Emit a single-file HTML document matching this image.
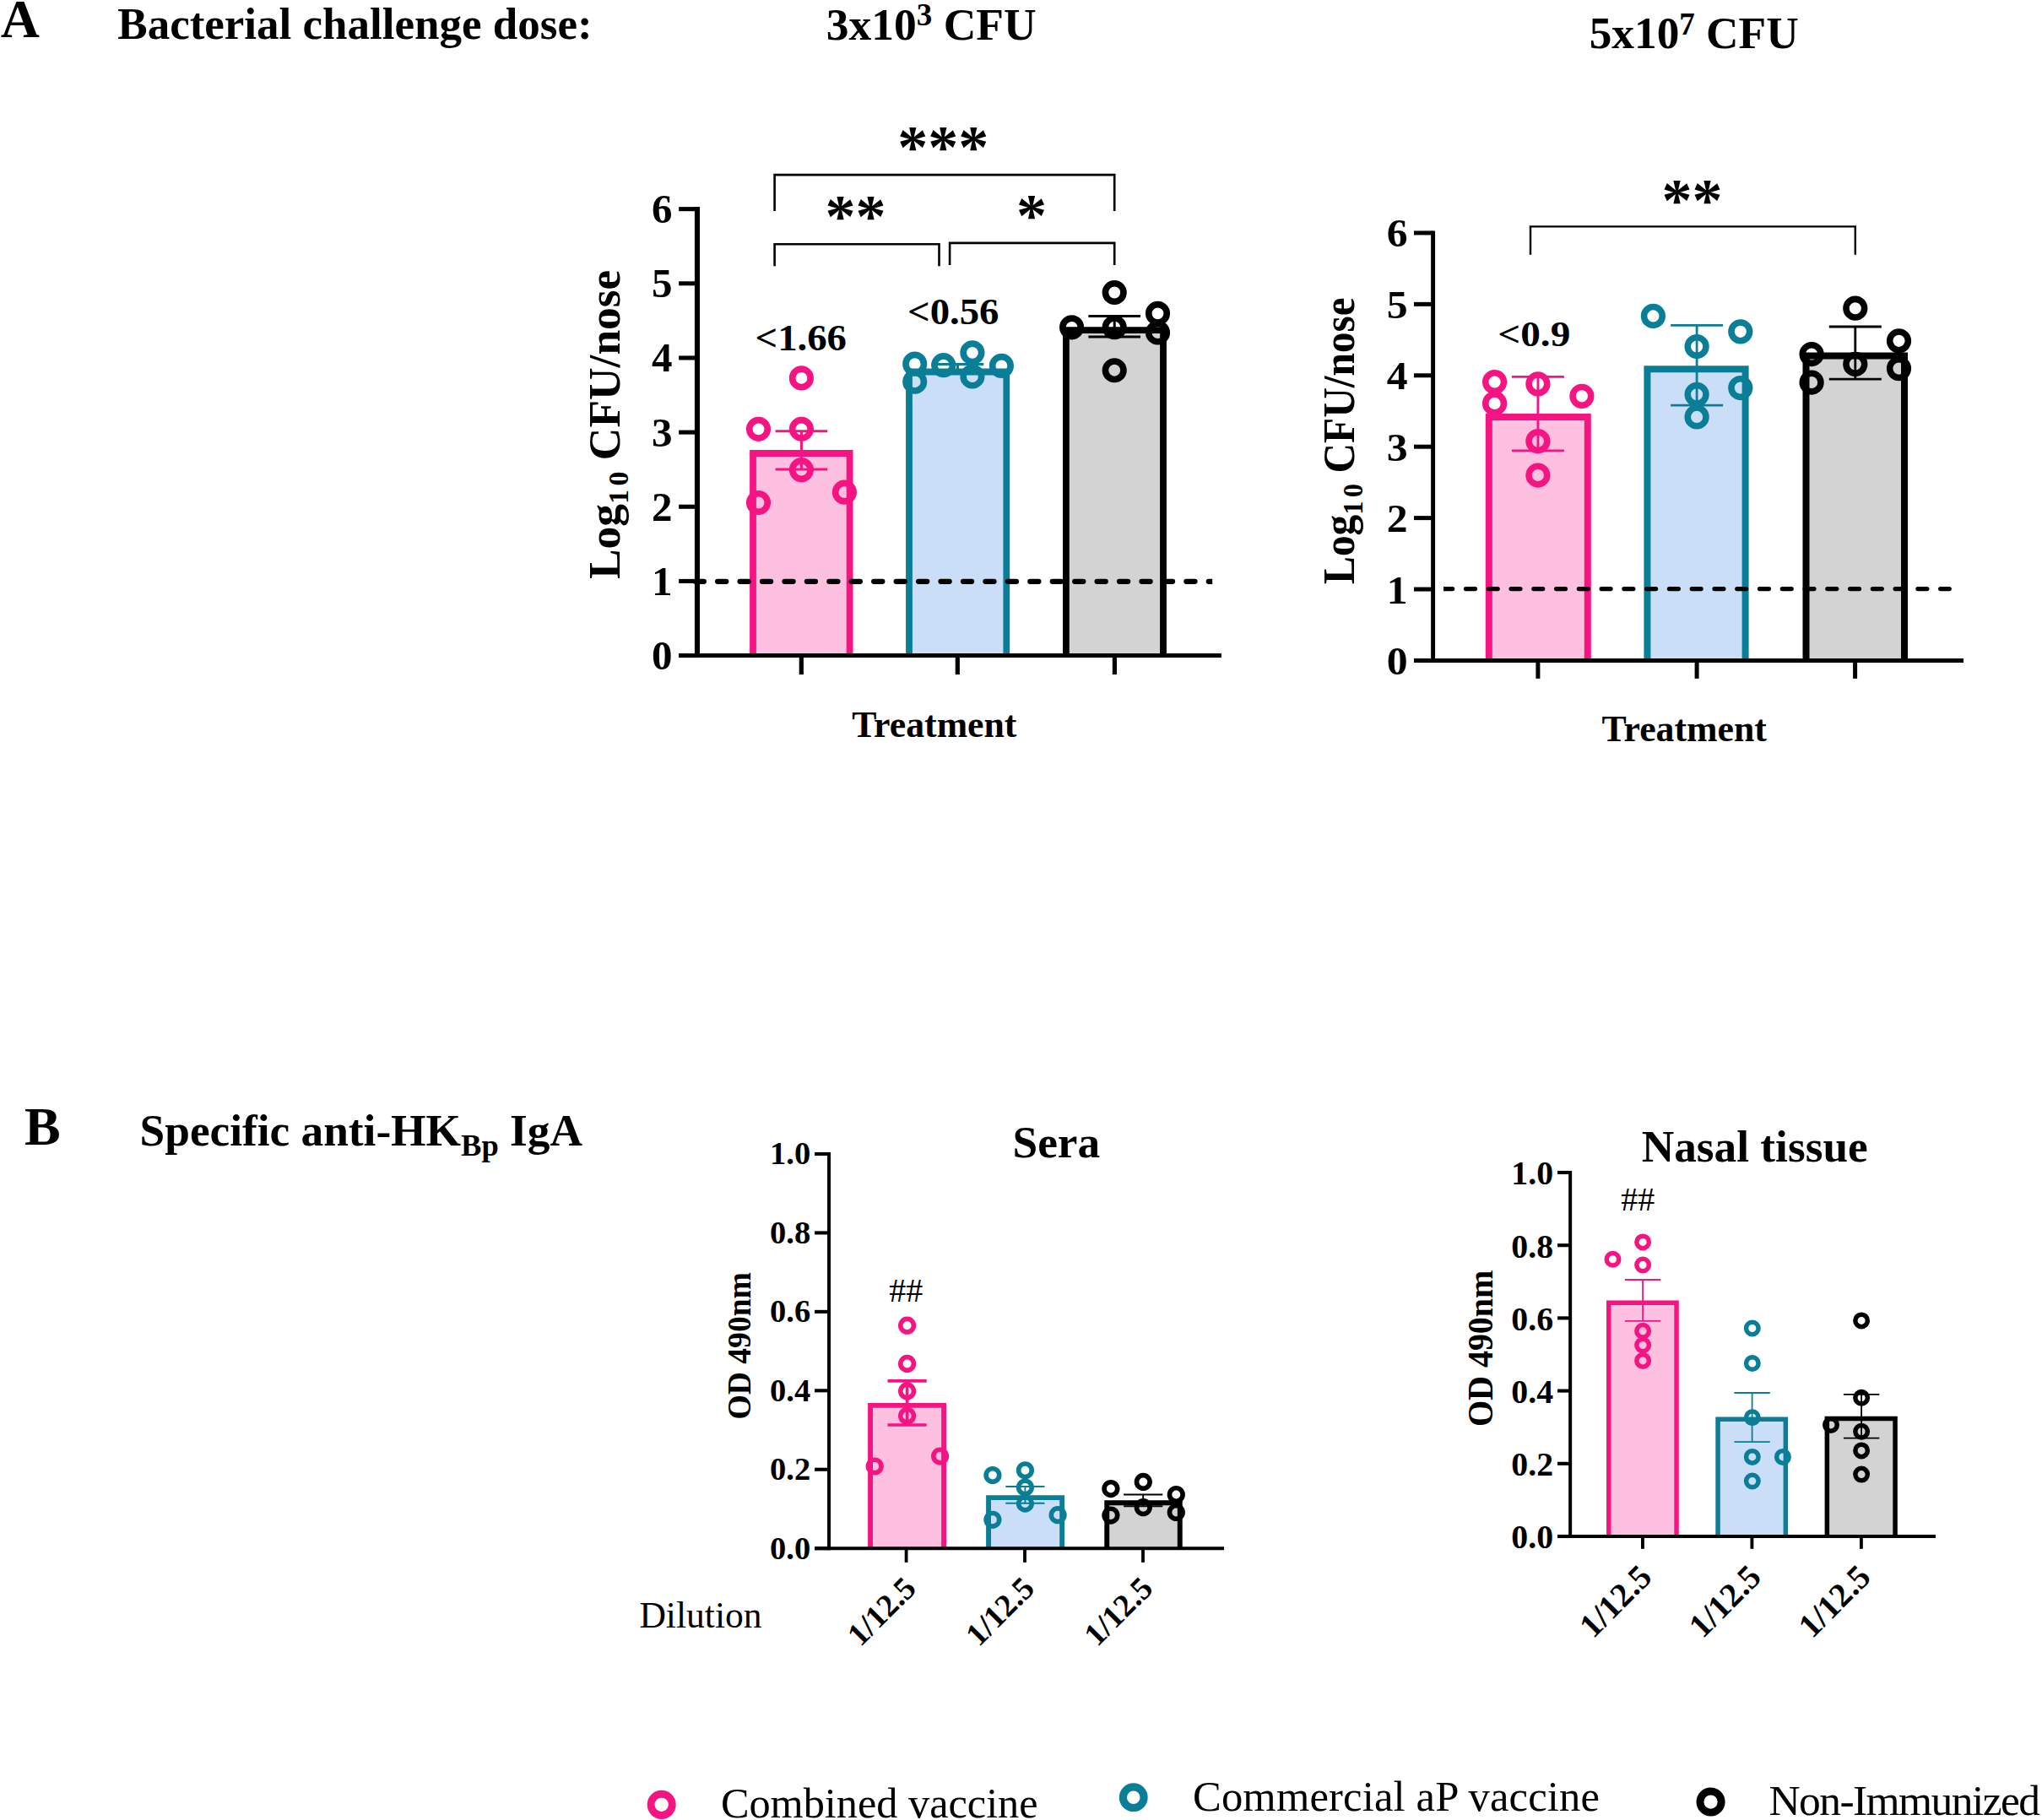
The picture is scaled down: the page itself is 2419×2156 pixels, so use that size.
<!DOCTYPE html>
<html><head><meta charset="utf-8"><title>Figure</title>
<style>
html,body{margin:0;padding:0;background:#fff;}
svg{display:block;}
text{font-family:"Liberation Serif",serif;fill:#000;}
</style></head><body>
<svg width="2419" height="2156" viewBox="0 0 2419 2156">
<rect width="2419" height="2156" fill="#fff"/>
<text x="0.8" y="44.0" font-size="64" font-weight="bold" text-anchor="start">A</text>
<text x="139.3" y="46.2" font-size="53" font-weight="bold" text-anchor="start">Bacterial challenge dose:</text>
<text x="978.8" y="46.5" font-size="53.5" font-weight="bold">3x10<tspan font-size="37" dy="-16.2">3</tspan><tspan dy="16.2"> CFU</tspan></text>
<text x="1882.7" y="57.1" font-size="53.3" font-weight="bold">5x10<tspan font-size="37" dy="-16.2">7</tspan><tspan dy="16.2"> CFU</tspan></text>
<text x="28.9" y="1355.7" font-size="64" font-weight="bold" text-anchor="start">B</text>
<text x="165.6" y="1357" font-size="53.3" font-weight="bold">Specific anti-HK<tspan font-size="36.5" dy="11.5">Bp</tspan><tspan dy="-11.5"> IgA</tspan></text>
<rect x="892.00" y="537.00" width="114.60" height="239.55" fill="#FEC0E0"/>
<path d="M892.00 776.55V537.00H1006.60V776.55" fill="none" stroke="#F61482" stroke-width="7.8"/>
<rect x="1077.00" y="440.50" width="115.30" height="336.05" fill="#CADEF7"/>
<path d="M1077.00 776.55V440.50H1192.30V776.55" fill="none" stroke="#0A7E97" stroke-width="7.8"/>
<rect x="1262.90" y="391.20" width="115.10" height="385.35" fill="#D3D3D3"/>
<path d="M1262.90 776.55V391.20H1378.00V776.55" fill="none" stroke="#000000" stroke-width="7.8"/>
<path d="M918.60 510.70H980.20M918.60 555.90H980.20M949.40 510.70V555.90" stroke="#F61482" stroke-width="3.0" fill="none"/>
<path d="M1103.70 431.50H1165.30M1103.70 440.00H1165.30M1134.50 431.50V440.00" stroke="#0A7E97" stroke-width="3.0" fill="none"/>
<path d="M1289.40 374.40H1351.00M1289.40 399.10H1351.00M1320.20 374.40V399.10" stroke="#000000" stroke-width="3.0" fill="none"/>
<path d="M825.95 245.12V779.07" stroke="#000" stroke-width="6.1" fill="none"/>
<path d="M804.1 776.55H1446.9" stroke="#000" stroke-width="5.05" fill="none"/>
<path d="M804.1500000000001 776.55H825.95" stroke="#000" stroke-width="5.05" fill="none"/>
<text x="796.5" y="793.05" font-size="49" font-weight="bold" text-anchor="end">0</text>
<path d="M804.1500000000001 688.40H825.95" stroke="#000" stroke-width="5.05" fill="none"/>
<text x="796.5" y="704.90" font-size="49" font-weight="bold" text-anchor="end">1</text>
<path d="M804.1500000000001 600.25H825.95" stroke="#000" stroke-width="5.05" fill="none"/>
<text x="796.5" y="616.75" font-size="49" font-weight="bold" text-anchor="end">2</text>
<path d="M804.1500000000001 512.10H825.95" stroke="#000" stroke-width="5.05" fill="none"/>
<text x="796.5" y="528.60" font-size="49" font-weight="bold" text-anchor="end">3</text>
<path d="M804.1500000000001 423.95H825.95" stroke="#000" stroke-width="5.05" fill="none"/>
<text x="796.5" y="440.45" font-size="49" font-weight="bold" text-anchor="end">4</text>
<path d="M804.1500000000001 335.80H825.95" stroke="#000" stroke-width="5.05" fill="none"/>
<text x="796.5" y="352.30" font-size="49" font-weight="bold" text-anchor="end">5</text>
<path d="M804.1500000000001 247.65H825.95" stroke="#000" stroke-width="5.05" fill="none"/>
<text x="796.5" y="264.15" font-size="49" font-weight="bold" text-anchor="end">6</text>
<path d="M949.30 776.55V799.05" stroke="#000" stroke-width="5.2" fill="none"/>
<path d="M1134.30 776.55V799.05" stroke="#000" stroke-width="5.2" fill="none"/>
<path d="M1320.40 776.55V799.05" stroke="#000" stroke-width="5.2" fill="none"/>
<circle cx="949.40" cy="447.90" r="10.75" stroke="#F61482" stroke-width="7.65" fill="none"/>
<circle cx="898.50" cy="508.30" r="10.75" stroke="#F61482" stroke-width="7.65" fill="none"/>
<circle cx="949.40" cy="508.30" r="10.75" stroke="#F61482" stroke-width="7.65" fill="none"/>
<circle cx="949.40" cy="556.60" r="10.75" stroke="#F61482" stroke-width="7.65" fill="none"/>
<circle cx="1000.40" cy="583.10" r="10.75" stroke="#F61482" stroke-width="7.65" fill="none"/>
<circle cx="898.50" cy="595.50" r="10.75" stroke="#F61482" stroke-width="7.65" fill="none"/>
<circle cx="1083.70" cy="431.10" r="10.75" stroke="#0A7E97" stroke-width="7.65" fill="none"/>
<circle cx="1117.70" cy="432.60" r="10.75" stroke="#0A7E97" stroke-width="7.65" fill="none"/>
<circle cx="1151.90" cy="417.80" r="10.75" stroke="#0A7E97" stroke-width="7.65" fill="none"/>
<circle cx="1186.40" cy="433.40" r="10.75" stroke="#0A7E97" stroke-width="7.65" fill="none"/>
<circle cx="1151.90" cy="446.00" r="10.75" stroke="#0A7E97" stroke-width="7.65" fill="none"/>
<circle cx="1083.70" cy="452.20" r="10.75" stroke="#0A7E97" stroke-width="7.65" fill="none"/>
<circle cx="1320.20" cy="346.50" r="10.75" stroke="#000000" stroke-width="7.65" fill="none"/>
<circle cx="1371.50" cy="371.30" r="10.75" stroke="#000000" stroke-width="7.65" fill="none"/>
<circle cx="1269.60" cy="387.80" r="10.75" stroke="#000000" stroke-width="7.65" fill="none"/>
<circle cx="1320.20" cy="387.70" r="10.75" stroke="#000000" stroke-width="7.65" fill="none"/>
<circle cx="1371.50" cy="394.00" r="10.75" stroke="#000000" stroke-width="7.65" fill="none"/>
<circle cx="1320.20" cy="438.70" r="10.75" stroke="#000000" stroke-width="7.65" fill="none"/>
<clipPath id="c1"><rect x="820" y="680" width="616.2" height="20"/></clipPath>
<path d="M823.7 688.8H1445" stroke="#000" stroke-width="6.3" stroke-linecap="round" stroke-dasharray="10.1 16.34" fill="none" clip-path="url(#c1)"/>
<text x="894.5" y="414.6" font-size="44" font-weight="bold" text-anchor="start" textLength="108.5" lengthAdjust="spacingAndGlyphs">&lt;1.66</text>
<text x="1075" y="384.1" font-size="44" font-weight="bold" text-anchor="start" textLength="108.5" lengthAdjust="spacingAndGlyphs">&lt;0.56</text>
<text transform="translate(1106.8 873.2) scale(0.973 1.0)" font-size="45" font-weight="bold" text-anchor="middle">Treatment</text>
<text transform="translate(733.5 686) rotate(-90)" font-size="53.4" font-weight="bold">Log<tspan font-size="34" dy="10.6">1<tspan dx="4.5">0</tspan></tspan><tspan dy="-10.6"> CFU/nose</tspan></text>
<path d="M917.6 249.9V207.1H1320.2V249.9" stroke="#000" stroke-width="2.6" fill="none"/>
<path d="M917.6 315.2V289.3H1112.5V315.2" stroke="#000" stroke-width="2.6" fill="none"/>
<path d="M1125.1 314.1V287.9H1320.2V314.1" stroke="#000" stroke-width="2.6" fill="none"/>
<text x="1117.3" y="197.5" font-size="72" font-weight="bold" text-anchor="middle">***</text>
<text x="1013.6" y="280" font-size="72" font-weight="bold" text-anchor="middle">**</text>
<text x="1222" y="279.4" font-size="72" font-weight="bold" text-anchor="middle">*</text>
<rect x="1763.80" y="494.00" width="117.00" height="288.45" fill="#FEC0E0"/>
<path d="M1763.80 782.45V494.00H1880.80V782.45" fill="none" stroke="#F61482" stroke-width="8.0"/>
<rect x="1951.40" y="437.20" width="116.20" height="345.25" fill="#CADEF7"/>
<path d="M1951.40 782.45V437.20H2067.60V782.45" fill="none" stroke="#0A7E97" stroke-width="8.0"/>
<rect x="2139.50" y="421.50" width="116.50" height="360.95" fill="#D3D3D3"/>
<path d="M2139.50 782.45V421.50H2256.00V782.45" fill="none" stroke="#000000" stroke-width="8.0"/>
<path d="M1790.90 446.30H1852.90M1790.90 533.90H1852.90M1821.90 446.30V533.90" stroke="#F61482" stroke-width="2.8" fill="none"/>
<path d="M1979.10 385.40H2041.10M1979.10 480.20H2041.10M2010.10 385.40V480.20" stroke="#0A7E97" stroke-width="2.8" fill="none"/>
<path d="M2166.80 387.00H2228.80M2166.80 449.20H2228.80M2197.80 387.00V449.20" stroke="#000000" stroke-width="2.8" fill="none"/>
<path d="M1697.6 273.43V784.95" stroke="#000" stroke-width="4.95" fill="none"/>
<path d="M1675.0 782.45H2326" stroke="#000" stroke-width="5.0" fill="none"/>
<path d="M1675.0 782.45H1697.6" stroke="#000" stroke-width="5.0" fill="none"/>
<text transform="translate(1667.6 798.95) scale(1.0146 0.958)" font-size="49" font-weight="bold" text-anchor="end">0</text>
<path d="M1675.0 698.03H1697.6" stroke="#000" stroke-width="5.0" fill="none"/>
<text transform="translate(1667.6 714.53) scale(1.0146 0.958)" font-size="49" font-weight="bold" text-anchor="end">1</text>
<path d="M1675.0 613.61H1697.6" stroke="#000" stroke-width="5.0" fill="none"/>
<text transform="translate(1667.6 630.11) scale(1.0146 0.958)" font-size="49" font-weight="bold" text-anchor="end">2</text>
<path d="M1675.0 529.19H1697.6" stroke="#000" stroke-width="5.0" fill="none"/>
<text transform="translate(1667.6 545.69) scale(1.0146 0.958)" font-size="49" font-weight="bold" text-anchor="end">3</text>
<path d="M1675.0 444.77H1697.6" stroke="#000" stroke-width="5.0" fill="none"/>
<text transform="translate(1667.6 461.27) scale(1.0146 0.958)" font-size="49" font-weight="bold" text-anchor="end">4</text>
<path d="M1675.0 360.35H1697.6" stroke="#000" stroke-width="5.0" fill="none"/>
<text transform="translate(1667.6 376.85) scale(1.0146 0.958)" font-size="49" font-weight="bold" text-anchor="end">5</text>
<path d="M1675.0 275.93H1697.6" stroke="#000" stroke-width="5.0" fill="none"/>
<text transform="translate(1667.6 292.43) scale(1.0146 0.958)" font-size="49" font-weight="bold" text-anchor="end">6</text>
<path d="M1821.90 782.45V803.85" stroke="#000" stroke-width="5" fill="none"/>
<path d="M2010.10 782.45V803.85" stroke="#000" stroke-width="5" fill="none"/>
<path d="M2197.60 782.45V803.85" stroke="#000" stroke-width="5" fill="none"/>
<circle cx="1770.60" cy="452.50" r="10.85" stroke="#F61482" stroke-width="7.55" fill="none"/>
<circle cx="1770.60" cy="477.90" r="10.85" stroke="#F61482" stroke-width="7.55" fill="none"/>
<circle cx="1821.90" cy="454.80" r="10.85" stroke="#F61482" stroke-width="7.55" fill="none"/>
<circle cx="1873.90" cy="469.30" r="10.85" stroke="#F61482" stroke-width="7.55" fill="none"/>
<circle cx="1821.90" cy="522.70" r="10.85" stroke="#F61482" stroke-width="7.55" fill="none"/>
<circle cx="1821.90" cy="563.00" r="10.85" stroke="#F61482" stroke-width="7.55" fill="none"/>
<circle cx="1958.40" cy="374.40" r="10.85" stroke="#0A7E97" stroke-width="7.55" fill="none"/>
<circle cx="2061.80" cy="392.80" r="10.85" stroke="#0A7E97" stroke-width="7.55" fill="none"/>
<circle cx="2010.10" cy="410.50" r="10.85" stroke="#0A7E97" stroke-width="7.55" fill="none"/>
<circle cx="2061.80" cy="459.50" r="10.85" stroke="#0A7E97" stroke-width="7.55" fill="none"/>
<circle cx="2010.10" cy="467.30" r="10.85" stroke="#0A7E97" stroke-width="7.55" fill="none"/>
<circle cx="2010.10" cy="493.90" r="10.85" stroke="#0A7E97" stroke-width="7.55" fill="none"/>
<circle cx="2197.80" cy="365.20" r="10.85" stroke="#000000" stroke-width="7.55" fill="none"/>
<circle cx="2249.50" cy="403.80" r="10.85" stroke="#000000" stroke-width="7.55" fill="none"/>
<circle cx="2146.10" cy="419.50" r="10.85" stroke="#000000" stroke-width="7.55" fill="none"/>
<circle cx="2197.80" cy="431.40" r="10.85" stroke="#000000" stroke-width="7.55" fill="none"/>
<circle cx="2249.50" cy="436.60" r="10.85" stroke="#000000" stroke-width="7.55" fill="none"/>
<circle cx="2146.10" cy="453.00" r="10.85" stroke="#000000" stroke-width="7.55" fill="none"/>
<clipPath id="c2"><rect x="1710.05" y="690" width="620" height="20"/></clipPath>
<path d="M1709.75 697.6H2309.25" stroke="#000" stroke-width="5.3" stroke-linecap="round" stroke-dasharray="10.9 15.87" fill="none" clip-path="url(#c2)"/>
<text transform="translate(1774.3 410.4) scale(1.0146 0.958)" font-size="44" font-weight="bold" text-anchor="start" textLength="84.8" lengthAdjust="spacingAndGlyphs">&lt;0.9</text>
<text transform="translate(1995.2 878.0) scale(0.973 1.0)" font-size="45" font-weight="bold" text-anchor="middle">Treatment</text>
<text transform="translate(1603.5 692) scale(1.0146 0.958) rotate(-90)" font-size="51.5" font-weight="bold">Log<tspan font-size="34" dy="10.6">1<tspan dx="4.5">0</tspan></tspan><tspan dy="-10.6"> CFU/nose</tspan></text>
<path d="M1813 301.7V268.4H2197.8V301.7" stroke="#000" stroke-width="2.4" fill="none"/>
<text x="2004.6" y="261" font-size="72" font-weight="bold" text-anchor="middle">**</text>
<rect x="1031.05" y="1664.85" width="87.00" height="169.35" fill="#FEC0E0"/>
<path d="M1031.05 1834.20V1664.85H1118.05V1834.20" fill="none" stroke="#F61482" stroke-width="5.9"/>
<rect x="1171.05" y="1774.15" width="87.10" height="60.05" fill="#CADEF7"/>
<path d="M1171.05 1834.20V1774.15H1258.15V1834.20" fill="none" stroke="#0A7E97" stroke-width="5.9"/>
<rect x="1311.25" y="1780.25" width="86.50" height="53.95" fill="#D3D3D3"/>
<path d="M1311.25 1834.20V1780.25H1397.75V1834.20" fill="none" stroke="#000000" stroke-width="5.9"/>
<path d="M1051.50 1635.90H1097.70M1051.50 1688.00H1097.70M1074.60 1635.90V1688.00" stroke="#F61482" stroke-width="3.7" fill="none"/>
<path d="M1191.30 1761.00H1237.50M1191.30 1780.80H1237.50M1214.40 1761.00V1780.80" stroke="#0A7E97" stroke-width="1.9" fill="none"/>
<path d="M1331.10 1770.50H1377.30M1331.10 1784.20H1377.30M1354.20 1770.50V1784.20" stroke="#000000" stroke-width="1.9" fill="none"/>
<path d="M982.05 1364.95V1836.25" stroke="#000" stroke-width="4.0" fill="none"/>
<path d="M965.1 1834.2H1450" stroke="#000" stroke-width="4.1" fill="none"/>
<path d="M965.05 1834.20H982.05" stroke="#000" stroke-width="4.1" fill="none"/>
<text x="960.2" y="1846.50" font-size="38.5" font-weight="bold" text-anchor="end">0.0</text>
<path d="M965.05 1740.76H982.05" stroke="#000" stroke-width="4.1" fill="none"/>
<text x="960.2" y="1753.06" font-size="38.5" font-weight="bold" text-anchor="end">0.2</text>
<path d="M965.05 1647.32H982.05" stroke="#000" stroke-width="4.1" fill="none"/>
<text x="960.2" y="1659.62" font-size="38.5" font-weight="bold" text-anchor="end">0.4</text>
<path d="M965.05 1553.88H982.05" stroke="#000" stroke-width="4.1" fill="none"/>
<text x="960.2" y="1566.18" font-size="38.5" font-weight="bold" text-anchor="end">0.6</text>
<path d="M965.05 1460.44H982.05" stroke="#000" stroke-width="4.1" fill="none"/>
<text x="960.2" y="1472.74" font-size="38.5" font-weight="bold" text-anchor="end">0.8</text>
<path d="M965.05 1367.00H982.05" stroke="#000" stroke-width="4.1" fill="none"/>
<text x="960.2" y="1379.30" font-size="38.5" font-weight="bold" text-anchor="end">1.0</text>
<path d="M1073.60 1834.2V1850.9" stroke="#000" stroke-width="3.8" fill="none"/>
<path d="M1214.00 1834.2V1850.9" stroke="#000" stroke-width="3.8" fill="none"/>
<path d="M1354.00 1834.2V1850.9" stroke="#000" stroke-width="3.8" fill="none"/>
<circle cx="1074.60" cy="1570.20" r="7.8" stroke="#F61482" stroke-width="5.65" fill="none"/>
<circle cx="1074.60" cy="1615.40" r="7.8" stroke="#F61482" stroke-width="5.65" fill="none"/>
<circle cx="1074.60" cy="1647.90" r="7.8" stroke="#F61482" stroke-width="5.65" fill="none"/>
<circle cx="1074.60" cy="1677.30" r="7.8" stroke="#F61482" stroke-width="5.65" fill="none"/>
<circle cx="1113.60" cy="1725.10" r="7.8" stroke="#F61482" stroke-width="5.65" fill="none"/>
<circle cx="1036.20" cy="1737.00" r="7.8" stroke="#F61482" stroke-width="5.65" fill="none"/>
<circle cx="1175.90" cy="1747.50" r="7.8" stroke="#0A7E97" stroke-width="5.65" fill="none"/>
<circle cx="1214.40" cy="1741.80" r="7.8" stroke="#0A7E97" stroke-width="5.65" fill="none"/>
<circle cx="1214.40" cy="1762.00" r="7.8" stroke="#0A7E97" stroke-width="5.65" fill="none"/>
<circle cx="1214.40" cy="1781.10" r="7.8" stroke="#0A7E97" stroke-width="5.65" fill="none"/>
<circle cx="1253.10" cy="1794.70" r="7.8" stroke="#0A7E97" stroke-width="5.65" fill="none"/>
<circle cx="1175.90" cy="1800.30" r="7.8" stroke="#0A7E97" stroke-width="5.65" fill="none"/>
<circle cx="1315.90" cy="1763.60" r="7.8" stroke="#000000" stroke-width="5.65" fill="none"/>
<circle cx="1354.30" cy="1755.40" r="7.8" stroke="#000000" stroke-width="5.65" fill="none"/>
<circle cx="1393.30" cy="1770.60" r="7.8" stroke="#000000" stroke-width="5.65" fill="none"/>
<circle cx="1354.30" cy="1785.70" r="7.8" stroke="#000000" stroke-width="5.65" fill="none"/>
<circle cx="1393.30" cy="1791.40" r="7.8" stroke="#000000" stroke-width="5.65" fill="none"/>
<circle cx="1315.90" cy="1795.10" r="7.8" stroke="#000000" stroke-width="5.65" fill="none"/>
<text x="1251.3" y="1370.7" font-size="53.3" font-weight="bold" text-anchor="middle">Sera</text>
<text x="1073.2" y="1541.7" font-size="40" font-weight="normal" text-anchor="middle">##</text>
<text transform="translate(888.6 1681.4) scale(1.032 0.989) rotate(-90)" font-size="38" font-weight="bold">OD 490nm</text>
<text transform="translate(1087.1 1883.7) rotate(-45)" font-size="38" font-weight="bold" text-anchor="end">1/12.5</text>
<text transform="translate(1227.4 1883.7) rotate(-45)" font-size="38" font-weight="bold" text-anchor="end">1/12.5</text>
<text transform="translate(1367.6 1883.7) rotate(-45)" font-size="38" font-weight="bold" text-anchor="end">1/12.5</text>
<text transform="translate(757.4 1928) scale(0.968 1.0)" font-size="45" font-weight="normal" text-anchor="start">Dilution</text>
<rect x="1905.75" y="1543.25" width="80.30" height="276.75" fill="#FEC0E0"/>
<path d="M1905.75 1820.00V1543.25H1986.05V1820.00" fill="none" stroke="#F61482" stroke-width="5.5"/>
<rect x="2035.05" y="1681.25" width="80.30" height="138.75" fill="#CADEF7"/>
<path d="M2035.05 1820.00V1681.25H2115.35V1820.00" fill="none" stroke="#0A7E97" stroke-width="5.5"/>
<rect x="2164.35" y="1680.45" width="80.70" height="139.55" fill="#D3D3D3"/>
<path d="M2164.35 1820.00V1680.45H2245.05V1820.00" fill="none" stroke="#000000" stroke-width="5.5"/>
<path d="M1924.90 1516.00H1967.30M1924.90 1564.90H1967.30M1946.10 1516.00V1564.90" stroke="#F61482" stroke-width="1.8" fill="none"/>
<path d="M2054.40 1650.00H2096.80M2054.40 1708.20H2096.80M2075.60 1650.00V1708.20" stroke="#0A7E97" stroke-width="1.8" fill="none"/>
<path d="M2183.90 1651.80H2226.30M2183.90 1703.60H2226.30M2205.10 1651.80V1703.60" stroke="#000000" stroke-width="1.8" fill="none"/>
<path d="M1860.15 1386.95V1822.05" stroke="#000" stroke-width="4.0" fill="none"/>
<path d="M1845.0 1820.0H2293" stroke="#000" stroke-width="4.1" fill="none"/>
<path d="M1845.0500000000002 1820.00H1860.15" stroke="#000" stroke-width="4.1" fill="none"/>
<text x="1840.1" y="1834.40" font-size="39.8" font-weight="bold" text-anchor="end">0.0</text>
<path d="M1845.0500000000002 1733.80H1860.15" stroke="#000" stroke-width="4.1" fill="none"/>
<text x="1840.1" y="1748.20" font-size="39.8" font-weight="bold" text-anchor="end">0.2</text>
<path d="M1845.0500000000002 1647.60H1860.15" stroke="#000" stroke-width="4.1" fill="none"/>
<text x="1840.1" y="1662.00" font-size="39.8" font-weight="bold" text-anchor="end">0.4</text>
<path d="M1845.0500000000002 1561.40H1860.15" stroke="#000" stroke-width="4.1" fill="none"/>
<text x="1840.1" y="1575.80" font-size="39.8" font-weight="bold" text-anchor="end">0.6</text>
<path d="M1845.0500000000002 1475.20H1860.15" stroke="#000" stroke-width="4.1" fill="none"/>
<text x="1840.1" y="1489.60" font-size="39.8" font-weight="bold" text-anchor="end">0.8</text>
<path d="M1845.0500000000002 1389.00H1860.15" stroke="#000" stroke-width="4.1" fill="none"/>
<text x="1840.1" y="1403.40" font-size="39.8" font-weight="bold" text-anchor="end">1.0</text>
<path d="M1945.95 1820.0V1834.8" stroke="#000" stroke-width="3.9" fill="none"/>
<path d="M2075.40 1820.0V1834.8" stroke="#000" stroke-width="3.9" fill="none"/>
<path d="M2204.90 1820.0V1834.8" stroke="#000" stroke-width="3.9" fill="none"/>
<circle cx="1946.10" cy="1471.40" r="7.25" stroke="#F61482" stroke-width="5.5" fill="none"/>
<circle cx="1910.50" cy="1491.80" r="7.25" stroke="#F61482" stroke-width="5.5" fill="none"/>
<circle cx="1946.10" cy="1498.50" r="7.25" stroke="#F61482" stroke-width="5.5" fill="none"/>
<circle cx="1946.10" cy="1576.70" r="7.25" stroke="#F61482" stroke-width="5.5" fill="none"/>
<circle cx="1946.10" cy="1593.50" r="7.25" stroke="#F61482" stroke-width="5.5" fill="none"/>
<circle cx="1946.10" cy="1611.90" r="7.25" stroke="#F61482" stroke-width="5.5" fill="none"/>
<circle cx="2075.80" cy="1573.50" r="7.25" stroke="#0A7E97" stroke-width="5.5" fill="none"/>
<circle cx="2075.80" cy="1615.00" r="7.25" stroke="#0A7E97" stroke-width="5.5" fill="none"/>
<circle cx="2075.80" cy="1679.20" r="7.25" stroke="#0A7E97" stroke-width="5.5" fill="none"/>
<circle cx="2075.80" cy="1725.90" r="7.25" stroke="#0A7E97" stroke-width="5.5" fill="none"/>
<circle cx="2111.90" cy="1725.90" r="7.25" stroke="#0A7E97" stroke-width="5.5" fill="none"/>
<circle cx="2075.80" cy="1754.50" r="7.25" stroke="#0A7E97" stroke-width="5.5" fill="none"/>
<circle cx="2205.10" cy="1564.40" r="7.25" stroke="#000000" stroke-width="5.5" fill="none"/>
<circle cx="2205.10" cy="1655.70" r="7.25" stroke="#000000" stroke-width="5.5" fill="none"/>
<circle cx="2169.00" cy="1687.90" r="7.25" stroke="#000000" stroke-width="5.5" fill="none"/>
<circle cx="2205.10" cy="1695.70" r="7.25" stroke="#000000" stroke-width="5.5" fill="none"/>
<circle cx="2205.10" cy="1718.40" r="7.25" stroke="#000000" stroke-width="5.5" fill="none"/>
<circle cx="2205.10" cy="1746.60" r="7.25" stroke="#000000" stroke-width="5.5" fill="none"/>
<text x="2078.7" y="1376.1" font-size="53.3" font-weight="bold" text-anchor="middle">Nasal tissue</text>
<text x="1940.2" y="1434.4" font-size="40" font-weight="normal" text-anchor="middle">##</text>
<text transform="translate(1768.2 1690.1) scale(1.03 1) rotate(-90)" font-size="40" font-weight="bold">OD 490nm</text>
<text transform="translate(1958.8 1870.4) rotate(-45)" font-size="40" font-weight="bold" text-anchor="end">1/12.5</text>
<text transform="translate(2088.5 1870.4) rotate(-45)" font-size="40" font-weight="bold" text-anchor="end">1/12.5</text>
<text transform="translate(2218.2 1870.4) rotate(-45)" font-size="40" font-weight="bold" text-anchor="end">1/12.5</text>
<circle cx="783.7" cy="2137.85" r="12.6" stroke="#F61482" stroke-width="8.9" fill="none"/>
<text x="853.9" y="2153.4" font-size="50.3" font-weight="normal" text-anchor="start">Combined vaccine</text>
<circle cx="1342.75" cy="2129.2" r="12.35" stroke="#0A7E97" stroke-width="9.1" fill="none"/>
<text x="1413.0" y="2144.6" font-size="50.6" textLength="482" lengthAdjust="spacing">Commercial aP vaccine</text>
<circle cx="2026.55" cy="2134.55" r="12.6" stroke="#000000" stroke-width="8.9" fill="none"/>
<text x="2095.4" y="2149.8" font-size="51.5" textLength="321.6" lengthAdjust="spacing">Non-Immunized</text>
</svg></body></html>
